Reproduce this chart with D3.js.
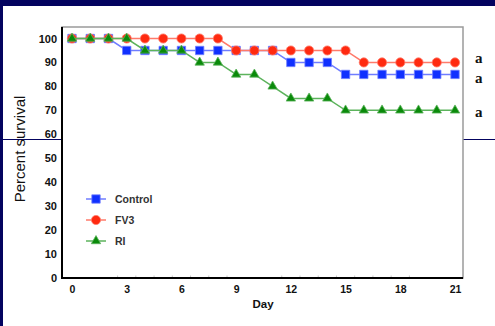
<!DOCTYPE html>
<html>
<head>
<meta charset="utf-8">
<script src="https://cdn.jsdelivr.net/npm/d3@7"></script>
<style>
  html, body { margin: 0; padding: 0; background: #03035f; }
  svg { display: block; }
</style>
</head>
<body>
<svg id="chart" width="495" height="326"></svg>
<script>
// Survival by day for each treatment group (percent)
const days = d3.range(0, 22);
const control = [100,100,100,95,95,95,95,95,95,95,95,95,90,90,90,85,85,85,85,85,85,85];
const fv3     = [100,100,100,100,100,100,100,100,100,95,95,95,95,95,95,95,90,90,90,90,90,90];
const ri      = [100,100,100,100,95,95,95,90,90,85,85,80,75,75,75,70,70,70,70,70,70,70];

const seriesNames  = ["Control", "FV3", "RI"];
const seriesColors = ["#1030ff", "#ff2a10", "#0a8a0a"];
const lineColors   = ["#6f7dff", "#ff7a6a", "#5cb35c"];
const seriesShapes = [d3.symbolSquare, d3.symbolCircle, d3.symbolTriangle];
const seriesSizes  = [70, 66, 38];
const groupLetters = ["a", "a", "a"];

const yTicks = d3.range(0, 101, 10);
const xTicks = [0, 3, 6, 9, 12, 15, 18, 21];
const minorTicks = [2.5,3.5,4.5,5.5,6.5,7.5,8.5,11.5,12.5,13.5,14.5,15.5,16.5,17.5,18.5];

const svg = d3.select("#chart");
const W = 495, H = 326;

// slide panel
svg.append("rect").attr("x", 0).attr("y", 0).attr("width", W).attr("height", H).attr("fill", "#03035f");
svg.append("rect").attr("x", 3).attr("y", 6).attr("width", W - 3).attr("height", H - 6).attr("fill", "#ffffff");
// rule behind the plot
svg.append("line").attr("x1", 0).attr("x2", W).attr("y1", 139.5).attr("y2", 139.5)
  .attr("stroke", "#03035f").attr("stroke-width", 1.2);

const plot = { left: 62, right: 463, top: 27, bottom: 278 };
const x = d3.scaleLinear().domain([0, 21]).range([72, 455]);
const y = d3.scaleLinear().domain([0, 100]).range([278, 38.5]);

// plot background and frame
svg.append("rect").attr("x", plot.left).attr("y", plot.top)
  .attr("width", plot.right - plot.left).attr("height", plot.bottom - plot.top)
  .attr("fill", "#ffffff").attr("stroke", "#9a9a9a").attr("stroke-width", 1.5);

// minor marks along the day axis
svg.append("g").selectAll("line").data(minorTicks).join("line")
  .attr("x1", d => x(d)).attr("x2", d => x(d))
  .attr("y1", plot.bottom - 2.5).attr("y2", plot.bottom)
  .attr("stroke", "#c8c8c8").attr("stroke-width", 1);

// y axis
const yAxis = svg.append("g").attr("transform", `translate(${plot.left},0)`)
  .call(d3.axisLeft(y).tickValues(yTicks).tickSize(0).tickPadding(5));
yAxis.select(".domain").remove();
yAxis.selectAll("text").attr("font-family", "Liberation Sans, Arial, sans-serif")
  .attr("font-size", 11).attr("font-weight", "bold").attr("fill", "#111");

// x axis
const xAxis = svg.append("g").attr("transform", `translate(0,${plot.bottom})`)
  .call(d3.axisBottom(x).tickValues(xTicks).tickSize(0).tickPadding(8));
xAxis.select(".domain").remove();
xAxis.selectAll("text").attr("font-family", "Liberation Sans, Arial, sans-serif")
  .attr("font-size", 10.5).attr("font-weight", "bold").attr("fill", "#111");

// axis lines
svg.append("line").attr("x1", plot.left).attr("x2", plot.left)
  .attr("y1", plot.top).attr("y2", plot.bottom + 1).attr("stroke", "#000").attr("stroke-width", 2);
svg.append("line").attr("x1", plot.left - 1).attr("x2", plot.right)
  .attr("y1", plot.bottom).attr("y2", plot.bottom).attr("stroke", "#000").attr("stroke-width", 2);

// axis titles
svg.append("text").attr("x", 263).attr("y", 308).attr("text-anchor", "middle")
  .attr("font-family", "Liberation Sans, Arial, sans-serif").attr("font-size", 11.5)
  .attr("font-weight", "bold").attr("fill", "#111").text("Day");
svg.append("text").attr("transform", "translate(25,149) rotate(-90)").attr("text-anchor", "middle")
  .attr("font-family", "Liberation Sans, Arial, sans-serif").attr("font-size", 15)
  .attr("fill", "#111").text("Percent survival");

// series
const allSeries = [control, fv3, ri];
const line = d3.line().x((d, i) => x(days[i])).y(d => y(d));
allSeries.forEach((vals, k) => {
  const g = svg.append("g");
  g.append("path").datum(vals).attr("d", line).attr("fill", "none")
    .attr("stroke", lineColors[k]).attr("stroke-width", 1.5);
  g.selectAll("path.pt").data(vals).join("path").attr("class", "pt")
    .attr("transform", (d, i) => `translate(${x(days[i])},${y(d)})`)
    .attr("d", d3.symbol().type(seriesShapes[k]).size(seriesSizes[k]))
    .attr("fill", seriesColors[k]).attr("stroke", lineColors[k]).attr("stroke-width", 0.8);
});

// legend
const legend = svg.append("g");
seriesNames.forEach((name, k) => {
  const ly = 199 + k * 21;
  legend.append("line").attr("x1", 86).attr("x2", 106).attr("y1", ly).attr("y2", ly)
    .attr("stroke", lineColors[k]).attr("stroke-width", 1.5);
  legend.append("path").attr("transform", `translate(96,${ly})`)
    .attr("d", d3.symbol().type(seriesShapes[k]).size(seriesSizes[k]))
    .attr("fill", seriesColors[k]).attr("stroke", lineColors[k]).attr("stroke-width", 0.8);
  legend.append("text").attr("x", 115).attr("y", ly + 4)
    .attr("font-family", "Liberation Sans, Arial, sans-serif").attr("font-size", 10.5)
    .attr("font-weight", "bold").attr("fill", "#333").text(name);
});

// group letters beside the final values
const letterY = [63, 83, 117];
groupLetters.forEach((t, k) => {
  svg.append("text").attr("x", 475).attr("y", letterY[k])
    .attr("font-family", "Liberation Serif, Times New Roman, serif").attr("font-size", 15)
    .attr("font-weight", "bold").attr("fill", "#111").text(t);
});
</script>
</body>
</html>
